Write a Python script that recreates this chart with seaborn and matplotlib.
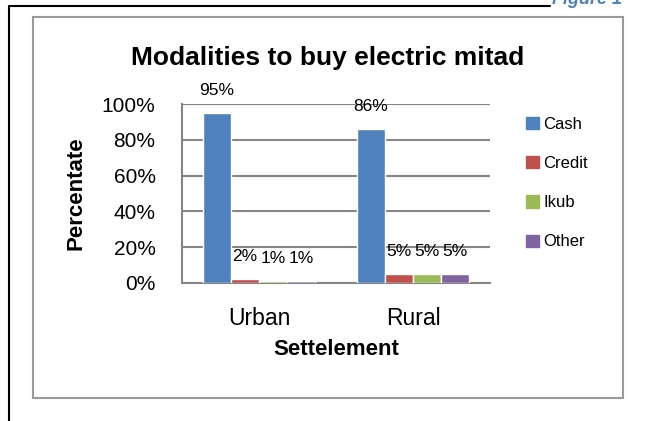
"""
Modalities to buy electric mitad - grouped bar chart
"""

import numpy as np
import pandas as pd
import matplotlib.pyplot as plt
import seaborn as sns
from matplotlib.patches import Rectangle
from matplotlib.lines import Line2D

# Data
settlements = ["Urban", "Rural"]
modalities = ["Cash", "Credit", "Ikub", "Other"]
cash = [95, 86]
credit = [2, 5]
ikub = [1, 5]
other = [1, 5]
y_ticks = [0, 20, 40, 60, 80, 100]
colors = ["#4F81BD", "#C0504D", "#9BBB59", "#8064A2"]

sns.set_style("white")
plt.rcParams['font.family'] = ['Liberation Sans', 'DejaVu Sans']
plt.rcParams['text.color'] = 'black'
plt.rcParams['xtick.color'] = 'black'
plt.rcParams['ytick.color'] = 'black'
plt.rcParams['axes.labelcolor'] = 'black'

# long-form table for seaborn
rows = []
for i, s in enumerate(settlements):
    for m, vals in zip(modalities, [cash, credit, ikub, other]):
        rows.append({"Settelement": s, "Modality": m, "Value": vals[i] / 100})
df = pd.DataFrame(rows)

W, H = 653, 421
fig = plt.figure(figsize=(W / 100, H / 100), dpi=100)

# frame decorations (page border + chart area box)
fig.add_artist(Line2D([9 / W, 550 / W], [1 - 6 / H, 1 - 6 / H], color="black", lw=1.5))
fig.add_artist(Line2D([9 / W, 9 / W], [0, 1 - 6 / H], color="black", lw=1.5))
fig.add_artist(Rectangle((33 / W, 1 - 398 / H), 590 / W, 381 / H, fill=False,
                         edgecolor="#9a9a9a", lw=1.5))
fig.text(552 / W, 1 - 4 / H, "Figure 1", color="#4F81BD", fontsize=13,
         fontweight="bold", fontstyle="italic", va="baseline", ha="left")

ax = fig.add_axes([182 / W, 1 - 283 / H, 308 / W, 179 / H])
sns.barplot(data=df, x="Settelement", y="Value", hue="Modality",
            palette=colors, width=0.73, gap=0, ax=ax, legend=False,
            saturation=1, zorder=3)

ax.set_xlim(-0.5, 1.5)
ax.set_ylim(0, 1)
ax.set_yticks([t / 100 for t in y_ticks])
ax.set_yticklabels([f"{t}%" for t in y_ticks], fontsize=15)
ax.tick_params(axis="y", length=5, width=1.2, color="#868686", pad=14)
ax.tick_params(axis="x", length=0, pad=17, labelsize=16.5)
ax.grid(axis="y", color="#868686", lw=1.5, zorder=0.5)
ax.set_axisbelow(True)
for side in ["top", "right"]:
    ax.spines[side].set_visible(False)
for side in ["left", "bottom"]:
    ax.spines[side].set_color("#868686")
    ax.spines[side].set_linewidth(1.5)
    ax.spines[side].set_zorder(1)

# value labels above the bars
for cont in ax.containers:
    ax.bar_label(cont, labels=[f"{v * 100:.0f}%" for v in cont.datavalues],
                 padding=11, fontsize=12.5)

fig.text(328 / W, 1 - 58 / H, "Modalities to buy electric mitad", fontsize=19,
         fontweight="bold", ha="center", va="center")
ax.set_xlabel("Settelement", fontsize=16, fontweight="bold", labelpad=7)
ax.set_ylabel("Percentate", fontsize=16, fontweight="bold", labelpad=11)

# legend on the right
handles = [Rectangle((0, 0), 1, 1, color=c) for c in colors]
fig.legend(handles, modalities, loc="upper left", bbox_to_anchor=(511 / W, 1 - 102 / H),
           frameon=False, handlelength=0.75, handleheight=0.75,
           handletextpad=0.3, labelspacing=1.45, prop={"size": 12})

fig.savefig("out.png", dpi=100)
